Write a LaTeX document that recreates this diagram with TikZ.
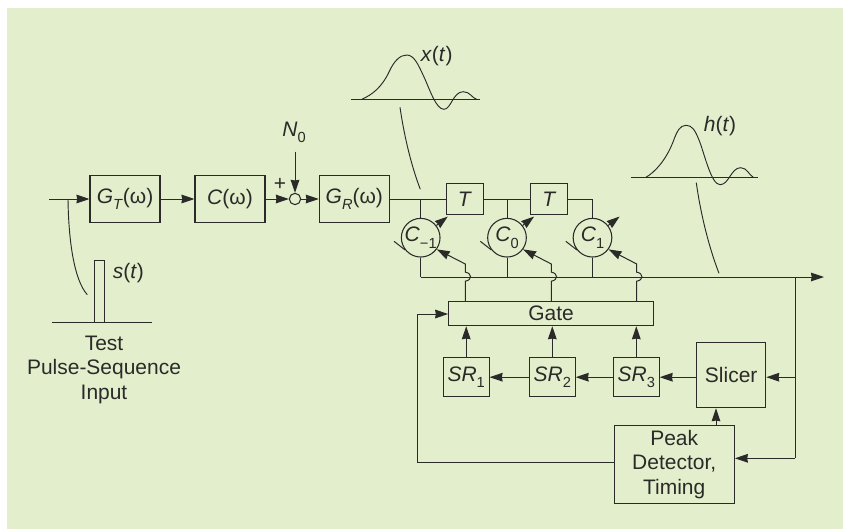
\documentclass[tikz,border=0pt]{standalone}
\usepackage{fontspec}
\setmainfont{Liberation Sans}
\usepackage{xcolor}
\usepackage{tikz}
\usetikzlibrary{positioning, arrows.meta, calc}

\definecolor{panelgreen}{HTML}{E3EECC}
\definecolor{inkgray}{HTML}{2A2A28}
\newcommand{\lowsub}[1]{\raisebox{-0.3em}{\fontsize{12.5}{12.5}\selectfont #1}}

\begin{document}
\begin{tikzpicture}[
    x=0.03cm, y=-0.03cm,
    every node/.style={font=\fontsize{17.9}{20.9}\selectfont, text=inkgray, inner sep=0pt},
    box/.style={rectangle, draw=inkgray, line width=0.9pt, align=center},
    fbox/.style={box, minimum width=2.1cm, minimum height=1.39cm},
    tbox/.style={box, minimum width=1.11cm, minimum height=0.92cm},
    srbox/.style={box, minimum width=1.37cm, minimum height=1.17cm},
    tapc/.style={circle, draw=inkgray, line width=0.9pt, minimum size=1.16cm},
    sumc/.style={circle, draw=inkgray, line width=0.9pt, minimum size=0.34cm},
    lin/.style={draw=inkgray, line width=0.85pt},
    thinl/.style={draw=inkgray, line width=0.8pt},
    arr/.style={lin, -{Stealth[length=3.9mm, width=2.6mm, inset=0.2mm]}},
]

% Panel
\useasboundingbox (0,0) rectangle (843,529);
\fill[panelgreen] (6.5,8) rectangle (843,529);

% Forward path
\coordinate (inp) at (49.3,199);
\coordinate (stap) at (68,199);
\node[fbox] (gt) at (125,199) {\textit{G}\lowsub{\textit{T}}(ω)};
\node[fbox] (cw) at (230,199) {\textit{C}(ω)};
\node[sumc] (sum) at (295,199) {};
\node[fbox] (gr) at (354.3,199) {\textit{G}\lowsub{\textit{R}}(ω)};
\node (noise) at (294,132.7) {\textit{N}\lowsub{0}};
\coordinate (noiseb) at (295,151.7);
\node (plus) at (280,184) {+};

% Delay line and taps
\node[tbox] (t1) at (465,199) {\textit{T}};
\node[tbox] (t2) at (549.3,199) {\textit{T}};
\node[tapc] (cm1) at (420.7,237.7) {\textit{C}\lowsub{−1}};
\node[tapc] (c0) at (507,237.7) {\textit{C}\lowsub{0}};
\node[tapc] (c1) at (592.5,237.7) {\textit{C}\lowsub{1}};

% Output bus
\coordinate (busl) at (420.7,277);
\coordinate (busr) at (824,277);
\coordinate (busj) at (795,277);

% Control logic
\node[box, minimum width=6.14cm, minimum height=0.72cm] (gate) at (551,313.7) {Gate};
\node[srbox] (sr1) at (466.2,377.2) {\textit{SR}\lowsub{1}};
\node[srbox] (sr2) at (552.3,377.2) {\textit{SR}\lowsub{2}};
\node[srbox] (sr3) at (636.3,377.2) {\textit{SR}\lowsub{3}};
\node[box, minimum width=2.07cm, minimum height=1.95cm] (slicer) at (731.2,375.2) {Slicer};
\node[box, minimum width=3.61cm, minimum height=2.34cm] (peak) at (674.2,464.3) {Peak\\Detector,\\Timing};

% Corners of the gate lines
\coordinate (k1) at (465.3,264);
\coordinate (k2) at (551.3,264);
\coordinate (k3) at (636.7,264);

% Arrows
\draw[arr] (inp) -- (gt);
\draw[arr] (gt) -- (cw);
\draw[arr] (cw) -- (sum);
\draw[arr] (sum) -- (gr);
\draw[arr] (noiseb) -- (sum);
\draw[lin] (gr) -- (t1);
\draw[lin] (t1) -- (t2);
\draw[lin] (t2) -| (c1);
\draw[lin] (cm1 |- gr) -- (cm1);
\draw[lin] (c0 |- gr) -- (c0);
\draw[lin] (cm1) -- (cm1 |- busl);
\draw[lin] (c0) -- (c0 |- busl);
\draw[lin] (c1) -- (c1 |- busl);
\draw[arr] (busl) -- (busr);
\draw[arr] (gate.north -| k1) -- ++(0,-20) .. controls +(7,-1) and +(7,1) .. ++(0,-9) -- (k1) -- (cm1.-36);
\draw[arr] (gate.north -| k2) -- ++(0,-20) .. controls +(7,-1) and +(7,1) .. ++(0,-9) -- (k2) -- (c0.-36);
\draw[arr] (gate.north -| k3) -- ++(0,-20) .. controls +(7,-1) and +(7,1) .. ++(0,-9) -- (k3) -- (c1.-36);

% Adjust marks
\draw[arr] (cm1.38) -- ++(-38:14.5);
\draw[lin] (cm1.218) -- ++(218:14);
\draw[arr] (c0.38) -- ++(-38:14.5);
\draw[lin] (c0.218) -- ++(218:14);
\draw[arr] (c1.38) -- ++(-38:14.5);
\draw[lin] (c1.218) -- ++(218:14);

% Feedback
\draw[arr] (sr1) -- (gate.south -| sr1);
\draw[arr] (sr2) -- (gate.south -| sr2);
\draw[arr] (sr3) -- (gate.south -| sr3);
\draw[arr] (sr2) -- (sr1);
\draw[arr] (sr3) -- (sr2);
\draw[arr] (slicer.west |- sr3) -- (sr3);
\draw[lin] (busj) -- (busj |- 0,458.3);
\draw[arr] (busj |- sr3) -- (slicer.east |- sr3);
\draw[arr] (busj |- 0,458.3) -- (peak.east |- 0,458.3);
\draw[arr] (peak.north -| 716,0) -- (slicer.south -| 716,0);
\draw[arr] (peak.west |- 0,462.3) -- (417.7,462.3) -- (417.7,314) -- (gate.west |- 0,314);

% x(t) sketch
\draw[thinl] (351,99.3) -- (480.3,99.3);
\draw[thinl] (361.7,99.3) .. controls (372,95) and (382,87) .. (389,72) .. controls (394,61) and (400,55) .. (406.7,55) .. controls (414,55) and (418,64) .. (424,77) .. controls (430,90) and (436,109.3) .. (444,109.3) .. controls (451,109.3) and (453,91.7) .. (463.3,91.7) .. controls (470,91.7) and (472,98) .. (476.7,99.3);
\node (xlab) at (436.7,56) {\textit{x}(\textit{t})};
\coordinate (xlead) at (400,107.3);
\draw[thinl] (xlead) .. controls (404,135) and (411,165) .. (420.3,189.3);

% h(t) sketch
\draw[thinl] (631,177.3) -- (757.7,177.3);
\draw[thinl] (646,177.3) .. controls (655,172) and (666,160) .. (673,142) .. controls (677,131) and (680,125.3) .. (686,125.3) .. controls (692,125.3) and (695,130) .. (699,140) .. controls (704,152) and (711,184.7) .. (720,184.7) .. controls (729,184.7) and (731,167.7) .. (740.7,167.7) .. controls (747,167.7) and (749,175) .. (753.3,177.3);
\node (hlab) at (720,125.7) {\textit{h}(\textit{t})};
\coordinate (hlead) at (696.3,182.7);
\draw[thinl] (hlead) .. controls (700,210) and (708,245) .. (719,273.3);

% s(t) sketch
\draw[thinl] (51.7,322.7) -- (152.3,322.7);
\node[box, minimum width=0.29cm, minimum height=1.87cm] (pulse) at (99.5,291.5) {};
\node (slab) at (128.3,273.3) {\textit{s}(\textit{t})};
\coordinate (slead) at (87.3,294.7);
\draw[thinl] (stap) .. controls (68.5,240) and (74,280) .. (slead);
\node[align=center] (testlab) at (104,369.5) {Test\\Pulse-Sequence\\Input};

\end{tikzpicture}
\end{document}
